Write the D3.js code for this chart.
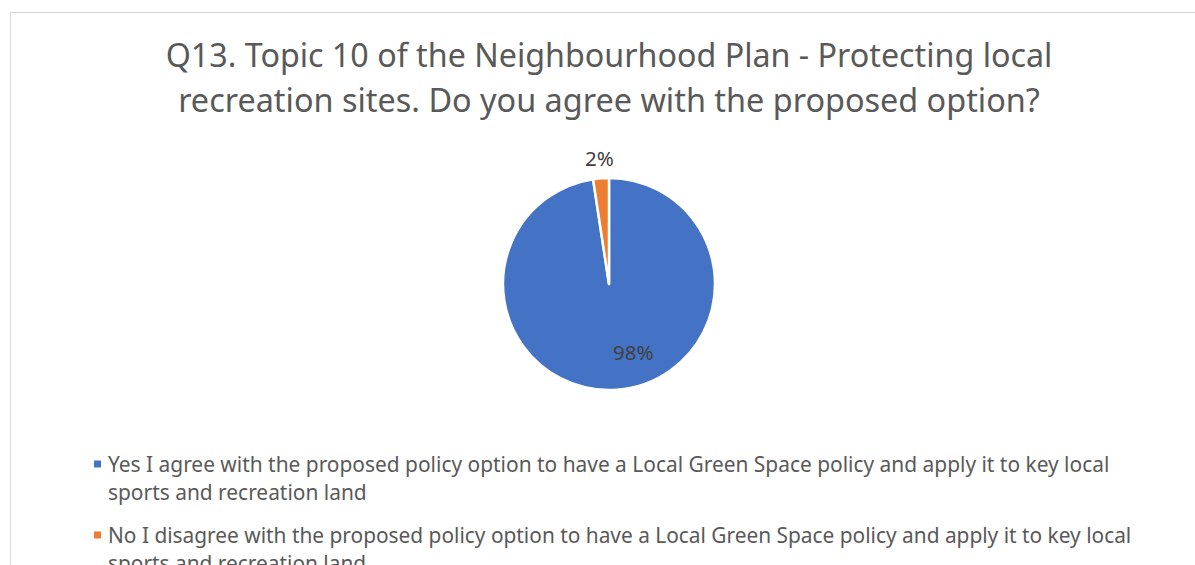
<!DOCTYPE html>
<html><head><meta charset="utf-8">
<script src="https://cdn.jsdelivr.net/npm/d3@7"></script>
<style>
html,body{margin:0;padding:0;background:#fff;overflow:hidden;}
svg{display:block;}
</style></head>
<body>
<svg id="chart" width="1195" height="565"></svg>
<script>
// ---- data ----
const titleLines = [
  "Q13. Topic 10 of the Neighbourhood Plan - Protecting local",
  "recreation sites. Do you agree with the proposed option?"
];
const categories = [
  "Yes I agree with the proposed policy option to have a Local Green Space policy and apply it to key local sports and recreation land",
  "No I disagree with the proposed policy option to have a Local Green Space policy and apply it to key local sports and recreation land"
];
const legendLines = [
  ["Yes I agree with the proposed policy option to have a Local Green Space policy and apply it to key local", "sports and recreation land"],
  ["No I disagree with the proposed policy option to have a Local Green Space policy and apply it to key local", "sports and recreation land"]
];
const values = [97.6, 2.4];
const colors = ["#4472C4", "#ED7D31"];

// ---- layout ----
const FONT = "'Noto Sans', 'Open Sans', sans-serif";
const svg = d3.select("#chart");
svg.append("rect").attr("x", 10.5).attr("y", 12.5).attr("width", 1200).attr("height", 600)
  .attr("fill", "#fff").attr("stroke", "#d9d9d9").attr("stroke-width", 1);

// fit text to a target width by adjusting font size
function fitText(sel, targetW) {
  const fs = parseFloat(sel.attr("font-size"));
  const w = sel.node().getComputedTextLength();
  sel.attr("font-size", fs * targetW / w);
}

// title
const titleBase = [67, 112];
const titleW = [887, 862];
titleLines.forEach((t, i) => {
  const tx = svg.append("text").attr("x", 609).attr("y", titleBase[i])
    .attr("text-anchor", "middle").attr("font-family", FONT).attr("font-size", 32)
    .attr("fill", "#595959").text(t);
  fitText(tx, titleW[i]);
});

// pie
const cx = 609, cy = 284, r = 106;
const pie = d3.pie().sort(null).startAngle(0).endAngle(2 * Math.PI);
const arcs = pie(values);
const arc = d3.arc().innerRadius(0).outerRadius(r);
const g = svg.append("g").attr("transform", `translate(${cx},${cy})`);
g.selectAll("path.slice").data(arcs).enter().append("path")
  .attr("class", "slice")
  .attr("d", arc)
  .attr("fill", (d, i) => colors[i])
  .attr("stroke", "#fff").attr("stroke-width", 2.5).attr("stroke-linejoin", "round");

// data labels
const fmt = d3.format(".0%");
const total = d3.sum(values);
const insideArc = d3.arc().innerRadius(0).outerRadius(r * 1.3);
const outsideArc = d3.arc().innerRadius(r * 1.19).outerRadius(r * 1.19);
g.selectAll("text.lbl").data(arcs).enter().append("text")
  .attr("class", "lbl")
  .attr("transform", (d, i) => {
    const c = i === 0 ? insideArc.centroid(d) : outsideArc.centroid(d);
    const dx = i === 0 ? r * 0.18 : 0;
    return `translate(${c[0] + dx},${c[1]})`;
  })
  .attr("dy", "0.36em")
  .attr("text-anchor", "middle").attr("font-family", FONT).attr("font-size", 20.5)
  .attr("fill", "#404040")
  .text(d => fmt(d.value / total));

// legend
const legY = [472, 543];
const lineGap = 28;
const legW = [1002, 1024];
legendLines.forEach((lines, i) => {
  svg.append("rect").attr("x", 94).attr("y", legY[i] - 11.5).attr("width", 7).attr("height", 7)
    .attr("fill", colors[i]);
  let fs = null;
  lines.forEach((ln, j) => {
    const tx = svg.append("text").attr("x", 108).attr("y", legY[i] + j * lineGap)
      .attr("font-family", FONT).attr("font-size", 18).attr("fill", "#595959").text(ln);
    if (j === 0) { fitText(tx, legW[i]); fs = tx.attr("font-size"); }
    else tx.attr("font-size", fs);
  });
});
</script>
</body></html>
